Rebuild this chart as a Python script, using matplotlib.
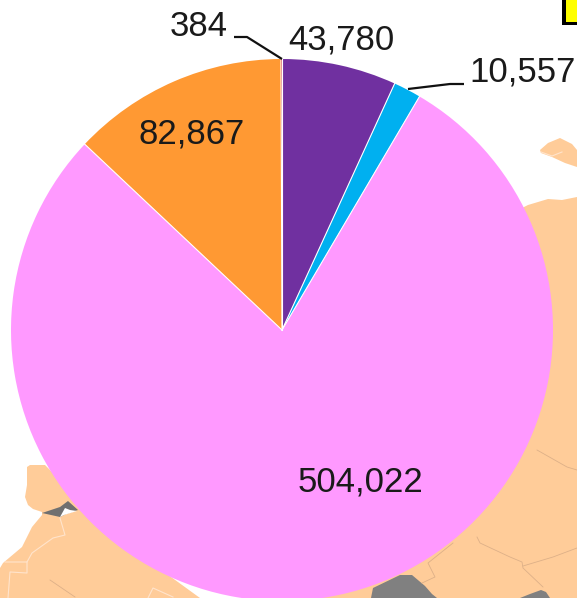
import numpy as np
import matplotlib
matplotlib.use("Agg")
import matplotlib.pyplot as plt
from matplotlib.patches import Polygon

W, H = 577, 598

# pie values, clockwise from 12 o'clock
values = [43780, 10557, 504022, 82867, 384]
colors = ["#7030A0", "#00B0F0", "#FF99FF", "#FF9933", "#C00000"]
label_pos = [(341, 40), (523, 72), (360, 482), (192, 134), (199, 27)]

# backdrop map shapes, in picture pixels (y down)
land_right = [(518, 210), (528, 205), (548, 199), (562, 200), (577, 197), (577, 598),
              (300, 598), (300, 560), (500, 300)]
land_left = [(27, 467), (30, 465), (45, 465), (120, 540), (200, 598), (0, 598), (0, 568),
             (3, 563), (22, 547), (32, 527), (42, 515), (42, 512), (33, 509), (28, 505),
             (25, 497), (27, 485)]
island = [(540, 150), (548, 143), (560, 138), (572, 144), (577, 150), (577, 167),
          (565, 163), (552, 157), (541, 153)]
gray_bottom = [(373, 588), (400, 575), (412, 575), (425, 586), (432, 594), (437, 598), (371, 598)]
gray_bottom2 = [(520, 598), (530, 594), (541, 590), (546, 592), (550, 598)]
gray_left = [(42, 513), (60, 507), (68, 501), (78, 510), (66, 514), (60, 517)]
white_left = [(60, 517), (65, 508), (70, 510), (77, 511), (64, 515)]
land_island_line = [(541, 152), (552, 156), (562, 152)]
borders_dark = [[(453, 543), (428, 563), (435, 577), (422, 583)],
                [(477, 537), (480, 543), (510, 557), (522, 562), (523, 568), (543, 587)],
                [(537, 450), (567, 467), (577, 470)],
                [(523, 566), (553, 557), (577, 548)],
                [(50, 580), (75, 597)]]
borders_light = [[(60, 518), (65, 535), (53, 538), (32, 553), (27, 562), (5, 562)],
                 [(27, 562), (27, 573), (10, 572), (8, 598)],
                 [(148, 598), (153, 588), (173, 597)]]

leader_384 = [(234, 37), (247, 37), (282, 59)]
leader_10557 = [(408, 89), (450, 84), (464, 84)]
cx, cy, radius = 282, 330, 271


def px(points):
    return [(x, H - y) for x, y in points]


fig = plt.figure(figsize=(W / 100, H / 100), dpi=100)
ax = fig.add_axes([0, 0, 1, 1])

for shape, col in [(land_right, "#FFCC99"), (land_left, "#FFCC99"), (island, "#FFCC99"),
                   (gray_bottom, "#808080"), (gray_bottom2, "#808080"),
                   (gray_left, "#707070"), (white_left, "white")]:
    ax.add_patch(Polygon(px(shape), closed=True, fc=col, ec="none", zorder=1))

for line in borders_dark:
    xs, ys = zip(*px(line))
    ax.plot(xs, ys, color="#DDB088", lw=0.6, zorder=2)
for line in borders_light + [land_island_line]:
    xs, ys = zip(*px(line))
    ax.plot(xs, ys, color="#FFE4CC", lw=0.8, zorder=2)

wedges, _ = ax.pie(values, colors=colors, startangle=90, counterclock=False,
                   center=(cx, H - cy), radius=radius,
                   wedgeprops=dict(edgecolor="none"))
for w in wedges:
    w.set_zorder(3)

# white separators only between slices, none round the outside
angles = 90 - 360 * np.cumsum(values) / sum(values)
for a in angles:
    ax.plot([cx, cx + radius * np.cos(np.radians(a))],
            [H - cy, H - cy + radius * np.sin(np.radians(a))],
            color="white", lw=0.8, zorder=3.5)

for line in (leader_384, leader_10557):
    xs, ys = zip(*px(line))
    ax.plot(xs, ys, color="#111111", lw=1.6, zorder=4, solid_capstyle="butt")

for val, (x, y) in zip(values, label_pos):
    ax.text(x, H - y, f"{val:,}", ha="center", va="center", fontsize=25,
            family="Liberation Sans", color="#1a1a1a", zorder=5)

# corner of the yellow legend box
ax.add_patch(Polygon(px([(562, 0), (577, 0), (577, 25), (562, 25)]), fc="black", ec="none", zorder=1))
ax.add_patch(Polygon(px([(566, 0), (577, 0), (577, 22), (566, 22)]), fc="#FFFF00", ec="none", zorder=1))

ax.set_xlim(0, W)
ax.set_ylim(0, H)
ax.set_aspect("auto")
ax.axis("off")
fig.savefig("out.png", dpi=100)
